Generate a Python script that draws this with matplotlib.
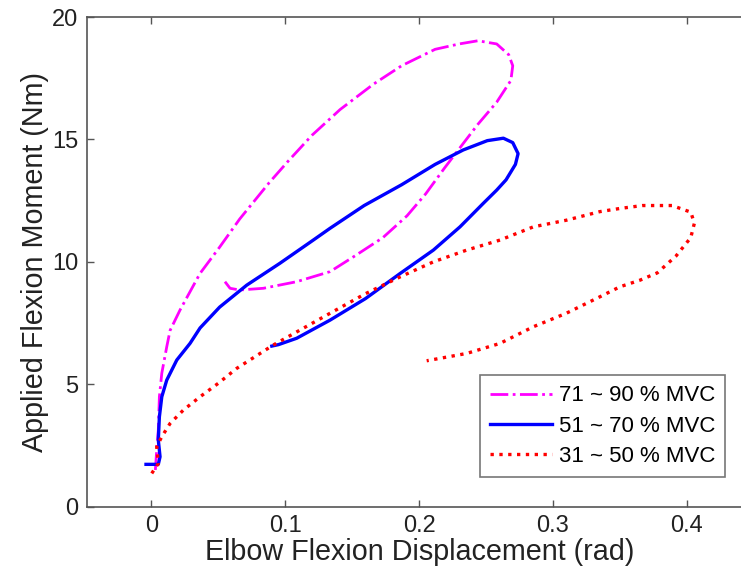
import matplotlib
matplotlib.use("Agg")
import matplotlib.pyplot as plt

plt.rcParams['font.family'] = ['Liberation Sans', 'DejaVu Sans']

# 71 ~ 90 % MVC
x_high = [0.003, 0.004, 0.0052, 0.006, 0.0078, 0.0115, 0.014, 0.0214, 0.0364, 0.051,
          0.066, 0.088, 0.1025, 0.12, 0.141, 0.166, 0.187, 0.212, 0.23, 0.244,
          0.258, 0.267, 0.270, 0.2686, 0.258, 0.244, 0.2314, 0.219, 0.205, 0.191,
          0.173, 0.152, 0.1335, 0.1086, 0.0837, 0.066, 0.0588, 0.055]
y_high = [1.5, 2.3, 3.13, 4.49, 5.45, 6.53, 7.2, 8.03, 9.53, 10.6,
          11.75, 13.23, 14.13, 15.17, 16.22, 17.26, 18.01, 18.68, 18.9, 19.03,
          18.9, 18.46, 18.01, 17.41, 16.52, 15.62, 14.72, 13.83, 12.78, 11.88,
          10.99, 10.24, 9.6, 9.19, 8.92, 8.85, 8.92, 9.19]

# 51 ~ 70 % MVC
x_mid = [-0.004, 0.0052, 0.0065, 0.0052, 0.006, 0.0078, 0.0115, 0.019, 0.0289, 0.0364,
         0.051, 0.0713, 0.096, 0.121, 0.1335, 0.159, 0.187, 0.212, 0.233, 0.251,
         0.263, 0.270, 0.274, 0.272, 0.265, 0.258, 0.248, 0.2306, 0.2107, 0.186,
         0.16, 0.1335, 0.1086, 0.095, 0.09]
y_mid = [1.73, 1.73, 2.04, 2.72, 3.67, 4.49, 5.17, 5.99, 6.67, 7.3,
         8.15, 9.05, 9.94, 10.89, 11.37, 12.3, 13.15, 13.98, 14.57, 14.95,
         15.05, 14.87, 14.42, 13.98, 13.35, 12.93, 12.39, 11.43, 10.48, 9.53,
         8.5, 7.62, 6.88, 6.62, 6.56]

# 31 ~ 50 % MVC
x_low = [0.0003, 0.0052, 0.004, 0.0078, 0.014, 0.024, 0.0364, 0.05, 0.0638, 0.091,
         0.1335, 0.16, 0.186, 0.2107, 0.2356, 0.2605, 0.2854, 0.31, 0.335, 0.35,
         0.367, 0.389, 0.403, 0.4057, 0.403, 0.392, 0.378, 0.365, 0.35, 0.335,
         0.31, 0.2854, 0.2605, 0.2356, 0.2057]
y_low = [1.36, 1.77, 2.45, 2.86, 3.4, 3.95, 4.49, 5.04, 5.65, 6.6,
         7.9, 8.7, 9.39, 10.0, 10.48, 10.89, 11.43, 11.7, 12.05, 12.18,
         12.3, 12.3, 12.03, 11.58, 10.99, 10.24, 9.55, 9.25, 8.98, 8.57,
         7.9, 7.35, 6.67, 6.26, 5.96]

labels = ['71 ~ 90 % MVC', '51 ~ 70 % MVC', '31 ~ 50 % MVC']
x_ticks = [0, 0.1, 0.2, 0.3, 0.4]
x_tick_labels = ['0', '0.1', '0.2', '0.3', '0.4']
y_ticks = [0, 5, 10, 15, 20]

W, H = 741, 575
fig = plt.figure(figsize=(W / 100, H / 100), dpi=100)
x0, x1 = -0.0483, 0.45
left_px, per_unit = 86.7, 1338.5
ax_w = (x1 - x0) * per_unit
ax = fig.add_axes([left_px / W, (H - 506.7) / H, ax_w / W, (506.7 - 17) / H])

ax.plot(x_high, y_high, color='#ff00ff', linestyle='-.', linewidth=2.0, label=labels[0])
ax.plot(x_mid, y_mid, color='#0000ff', linestyle='-', linewidth=2.4, label=labels[1])
ax.plot(x_low, y_low, color='#ff0000', linestyle=':', linewidth=2.4, label=labels[2])

ax.set_xlim(x0, x1)
ax.set_ylim(0, 20)
ax.set_xticks(x_ticks)
ax.set_xticklabels(x_tick_labels)
ax.set_yticks(y_ticks)
ax.tick_params(direction='in', length=5, width=1, colors='#555555', labelcolor='#222222',
               labelsize=17, top=True, right=True, pad=6)
for s in ax.spines.values():
    s.set_color('#555555')
    s.set_linewidth(1.2)

ax.set_xlabel('Elbow Flexion Displacement (rad)', fontsize=20.7, color='#222222', labelpad=1)
ax.set_ylabel('Applied Flexion Moment (Nm)', fontsize=20.7, color='#222222', labelpad=2)

leg = ax.legend(loc='lower right', bbox_to_anchor=((725 - left_px) / ax_w, (506.7 - 477) / 489.7),
                fontsize=16, frameon=True, fancybox=False, handlelength=2.8,
                borderpad=0.45, labelspacing=0.42, handletextpad=0.3, borderaxespad=0)
leg.get_frame().set_edgecolor('#555555')
leg.get_frame().set_linewidth(1.2)

fig.savefig('out.png', dpi=100)
